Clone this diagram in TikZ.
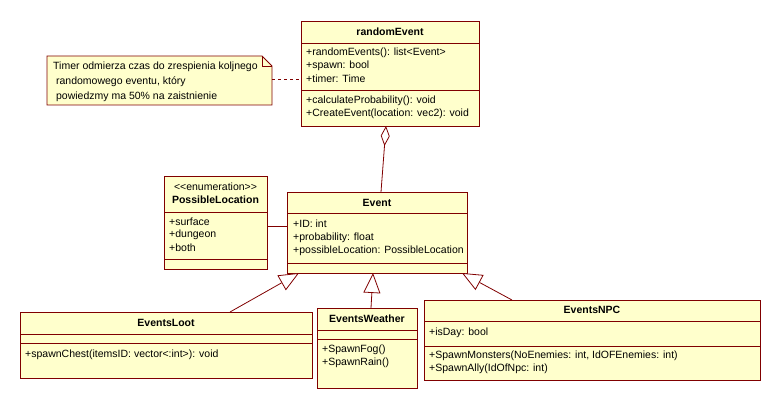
\documentclass[tikz,border=0pt]{standalone}
\usepackage{fontspec}
\setmainfont{Liberation Sans}
\usetikzlibrary{arrows.meta,calc}
\definecolor{umlfill}{RGB}{255,255,204}
\definecolor{umlline}{RGB}{128,0,0}
\begin{document}
\begin{tikzpicture}[x=1pt,y=-1pt,
  box/.style={draw=umlline, fill=umlfill, line width=0.8pt, inner sep=0, outer sep=0, anchor=north west},
  sepline/.style={draw=umlline, line width=0.8pt},
  txt/.style={anchor=west, inner sep=0, font=\fontsize{10.5}{12}\selectfont},
  ttl/.style={anchor=center, inner sep=0, font=\fontsize{10.5}{12}\selectfont\bfseries},
  conn/.style={draw=umlline, line width=0.8pt},
  gen/.style={conn, -{Triangle[open, fill=white, length=20pt, width=17pt]}},
  agg/.style={conn, -{Diamond[open, fill=white, length=20pt, width=9pt]}},
  notedash/.style={conn, dash pattern=on 3pt off 3pt},
]
\useasboundingbox (0,0) rectangle (779,409);

% ---------- randomEvent ----------
\node[box, minimum width=178pt, minimum height=105pt] (re) at (301,21) {};
\draw[sepline] (301,43) -- (479,43);
\draw[sepline] (301,90) -- (479,90);
\node[ttl] (reT) at (390,32) {randomEvent};
\node[txt] (re1) at (306,53) {+randomEvents(): list{<}Event{>}};
\node[txt] (re2) at (306,66) {+spawn: bool};
\node[txt] (re3) at (306,79) {+timer: Time};
\node[txt] (re4) at (306,101) {+calculateProbability(): void};
\node[txt] (re5) at (306,114) {+CreateEvent(location: vec2): void};

% ---------- note ----------
\node[inner sep=0, outer sep=0, minimum width=225pt, minimum height=49pt, anchor=north west] (note) at (47,56) {};
\draw[sepline, fill=umlfill] (note.north west) -- (262,56) -- (272,66) -- (note.south east) -- (note.south west) -- cycle;
\draw[sepline] (262,56) -- (262,66) -- (272,66);
\node[txt] (n1) at (53,67) {Timer odmierza czas do zrespienia koljnego};
\node[txt] (n2) at (53,82) {\ randomowego eventu, który};
\node[txt] (n3) at (53,97) {\ powiedzmy ma 50\% na zaistnienie};

% ---------- PossibleLocation ----------
\node[box, minimum width=103pt, minimum height=93pt] (pl) at (164,176) {};
\draw[sepline] (164,212) -- (267,212);
\draw[sepline] (164,259) -- (267,259);
\node[ttl, font=\fontsize{10.5}{12}\selectfont] (plS) at (215.5,187) {{<}{<}enumeration{>}{>}};
\node[ttl] (plT) at (215.5,200) {PossibleLocation};
\node[txt] (pl1) at (169,222) {+surface};
\node[txt] (pl2) at (169,235) {+dungeon};
\node[txt] (pl3) at (169,248) {+both};

% ---------- Event ----------
\node[box, minimum width=180pt, minimum height=81pt] (ev) at (287,192) {};
\draw[sepline] (287,213) -- (467,213);
\draw[sepline] (287,263) -- (467,263);
\node[ttl] (evT) at (377,203) {Event};
\node[txt] (ev1) at (293,224) {+ID: int};
\node[txt] (ev2) at (293,238) {+probability: float};
\node[txt] (ev3) at (293,251) {+possibleLocation: PossibleLocation};

% ---------- EventsLoot ----------
\node[box, minimum width=292pt, minimum height=66pt] (lo) at (20,312) {};
\draw[sepline] (20,334) -- (312,334);
\draw[sepline] (20,343) -- (312,343);
\node[ttl] (loT) at (166,323) {EventsLoot};
\node[txt] (lo1) at (25,355) {+spawnChest(itemsID: vector{<}:int{>}): void};

% ---------- EventsWeather ----------
\node[box, minimum width=100pt, minimum height=80pt] (we) at (317,308) {};
\draw[sepline] (317,330) -- (417,330);
\draw[sepline] (317,339) -- (417,339);
\node[ttl] (weT) at (367,319) {EventsWeather};
\node[txt] (we1) at (322,350) {+SpawnFog()};
\node[txt] (we2) at (322,363) {+SpawnRain()};

% ---------- EventsNPC ----------
\node[box, minimum width=336pt, minimum height=80pt] (np) at (424,300) {};
\draw[sepline] (424,321) -- (760,321);
\draw[sepline] (424,346) -- (760,346);
\node[ttl] (npT) at (592,310) {EventsNPC};
\node[txt] (np1) at (429,333) {+isDay: bool};
\node[txt] (np2) at (429,356) {+SpawnMonsters(NoEnemies: int, IdOFEnemies: int)};
\node[txt] (np3) at (429,369) {+SpawnAlly(IdOfNpc: int)};

% ---------- connectors ----------
\draw[notedash] (note.east |- re3.west) -- (re.west |- re3.west);
\draw[agg] ($(ev.north)+(4,0)$) -- ($(re.south)+(-4,0)$);
\draw[conn] ($(pl.east)+(0,3.5)$) -- ($(ev.west)+(0,-6.5)$);
\draw[gen] ($(lo.north)+(64,0)$) -- ($(ev.south west)+(12,0)$);
\draw[gen] ($(we.north)+(4,0)$) -- ($(ev.south)+(-4,0)$);
\draw[gen] ($(np.north)+(-80,0)$) -- ($(ev.south east)+(-5,0)$);
\end{tikzpicture}
\end{document}
